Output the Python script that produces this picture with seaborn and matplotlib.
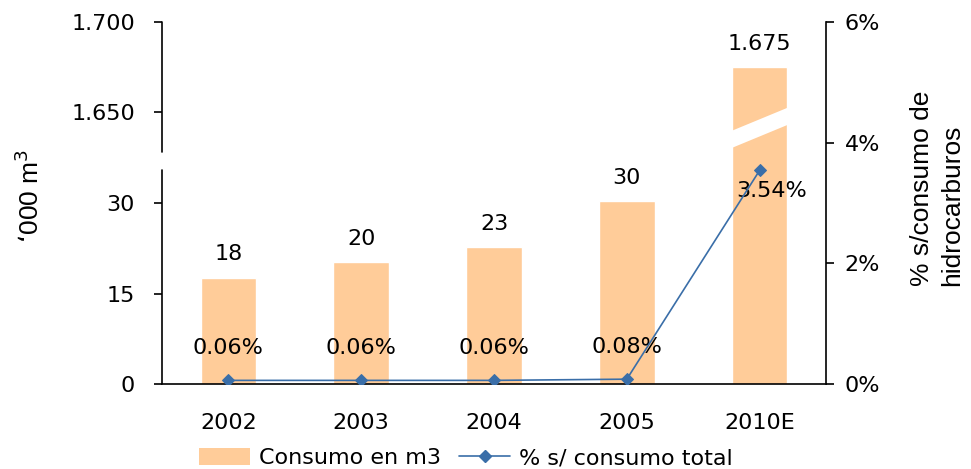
import numpy as np
import matplotlib
matplotlib.use("Agg")
import matplotlib.pyplot as plt
import seaborn as sns
from matplotlib.lines import Line2D
from matplotlib.patches import Patch

# Data
years = ["2002", "2003", "2004", "2005", "2010E"]
consumo = [17.6, 20.2, 22.7, 30.3, 1675]
consumo_labels = ["18", "20", "23", "30", "1.675"]
pct = [0.06, 0.06, 0.06, 0.08, 3.54]
pct_labels = ["0.06%", "0.06%", "0.06%", "0.08%", "3.54%"]

left_ticks = [0, 15, 30, 1650, 1700]
left_ticklabels = ["0", "15", "30", "1.650", "1.700"]
right_ticks = [0, 2, 4, 6]

bar_color = "#FFCC99"
line_color = "#3A6EA8"

# Broken axis: low segment 0-35.5, high segment 1628-1700
low_top, high_bottom, high_top = 35.5, 1628.0, 1700.0
p_low, p_gap, p_total = 214.0, 232.0, 362.0


def fwd(v):
    v = np.asarray(v, dtype=float)
    return np.where(
        v <= low_top, v * p_low / low_top,
        np.where(v < high_bottom,
                 p_low + (v - low_top) * (p_gap - p_low) / (high_bottom - low_top),
                 p_gap + (v - high_bottom) * (p_total - p_gap) / (high_top - high_bottom)))


def inv(p):
    p = np.asarray(p, dtype=float)
    return np.where(
        p <= p_low, p * low_top / p_low,
        np.where(p < p_gap,
                 low_top + (p - p_low) * (high_bottom - low_top) / (p_gap - p_low),
                 high_bottom + (p - p_gap) * (high_top - high_bottom) / (p_total - p_gap)))


sns.set_style("white")
plt.rcParams["font.family"] = ["DejaVu Sans"]
plt.rcParams["text.color"] = "black"
plt.rcParams["xtick.color"] = "black"
plt.rcParams["ytick.color"] = "black"
fs = 16
label_font = dict(family=["Liberation Sans", "DejaVu Sans"], fontsize=19)

fig = plt.figure(figsize=(9.71, 4.69), dpi=100)
ax = fig.add_axes([162 / 971, 1 - 384 / 469, 664 / 971, 362 / 469])

x = np.arange(len(years))
sns.barplot(x=years, y=consumo, color=bar_color, width=0.42,
            saturation=1, ax=ax, zorder=2)
ax.set_yscale("function", functions=(fwd, inv))
ax.set_ylim(0, high_top)
ax.set_xlim(-0.5, len(years) - 0.5)
ax.set_xlabel("")
ax.set_ylabel("")

# break slash across the tall bar
bx = [x[-1] - 0.25, x[-1] + 0.25]
ax.fill_between(bx, [1629.4, 1644.6], [1638.9, 1654.1], color="white",
                lw=0, zorder=3)

# bar value labels
for i, (v, lab) in enumerate(zip(consumo, consumo_labels)):
    ax.annotate(lab, (i, v), xytext=(0, 17), textcoords="offset points",
                ha="center", va="center", fontsize=fs)

ax.set_yticks(left_ticks)
ax.set_yticklabels(left_ticklabels, fontsize=fs)
ax.set_xticks(x)
ax.set_xticklabels(years, fontsize=fs)
ax.set_xticks(np.arange(-0.5, len(years)), minor=True)
ax.tick_params(axis="x", which="major", length=0, pad=21)
ax.tick_params(axis="x", which="minor", length=5.5, width=1.2,
               direction="out", color="black")
ax.tick_params(axis="y", length=5.5, width=1.2, direction="out",
               color="black", pad=14)
for s in ["top", "right", "left"]:
    ax.spines[s].set_visible(False)
ax.spines["bottom"].set_color("black")
ax.spines["bottom"].set_linewidth(1.2)
# broken left spine
ytr = ax.get_yaxis_transform()
ax.plot([0, 0], [0, low_top], transform=ytr, color="black", lw=1.2,
        clip_on=False, zorder=5)
ax.plot([0, 0], [high_bottom, high_top], transform=ytr, color="black", lw=1.2,
        clip_on=False, zorder=5)

# percentage line on the right axis
ax2 = ax.twinx()
sns.lineplot(x=x, y=pct, color=line_color, marker="D", markersize=6.5,
             markeredgecolor=line_color, linewidth=1.2, ax=ax2, zorder=4)
ax2.set_ylim(0, 6)
ax2.set_yticks(right_ticks)
ax2.set_yticklabels([f"{t}%" for t in right_ticks], fontsize=fs)
ax2.tick_params(axis="y", length=5.5, width=1.2, direction="out",
                color="black", pad=8)
ax2.set_xlim(-0.5, len(years) - 0.5)
ax2.set_ylabel("")
for s in ["top", "left", "bottom"]:
    ax2.spines[s].set_visible(False)
ax2.spines["right"].set_color("black")
ax2.spines["right"].set_linewidth(1.2)

for i, (v, lab) in enumerate(zip(pct, pct_labels)):
    off = (9, -15) if i == len(pct) - 1 else (0, 23.5)
    ax2.annotate(lab, (i, v), xytext=off, textcoords="offset points",
                 ha="center", va="center", fontsize=fs)

fig.text(30 / 971, 1 - 196 / 469, "\u2018000 m$^3$", rotation=90,
         ha="center", va="center", **label_font)
fig.text(937 / 971, 1 - 188 / 469, "% s/consumo de\nhidrocarburos",
         rotation=90, ha="center", va="center", multialignment="left",
         linespacing=1.3, **label_font)

handles = [Patch(facecolor=bar_color, edgecolor="none"),
           Line2D([], [], color=line_color, marker="D", markersize=6.5,
                  linewidth=1.2)]
fig.legend(handles, ["Consumo en m3", "% s/ consumo total"], loc="center",
           bbox_to_anchor=(466 / 971, 1 - 458 / 469), ncol=2, frameon=False,
           fontsize=fs, handlelength=2.3, handleheight=0.8,
           handletextpad=0.4, columnspacing=0.8)

fig.savefig("out.png", dpi=100)
